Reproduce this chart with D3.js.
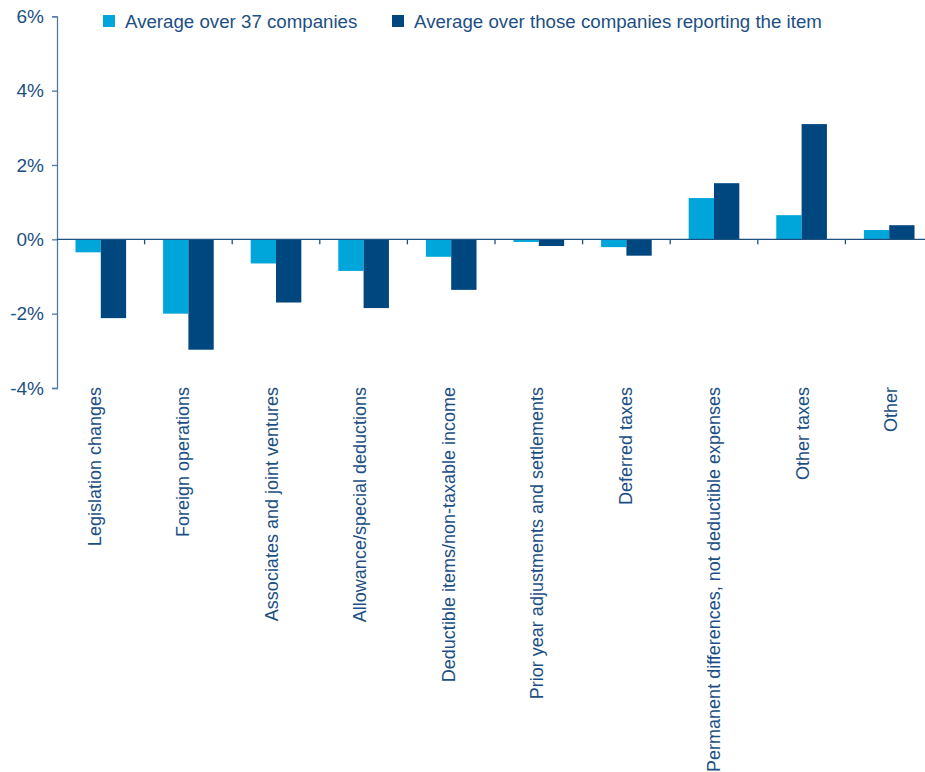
<!DOCTYPE html>
<html>
<head>
<meta charset="utf-8">
<script src="https://cdn.jsdelivr.net/npm/d3@7"></script>
<style>
  body { margin: 0; background: #fff; }
  text { font-family: "Liberation Sans", Arial, sans-serif; fill: #1c4f84; }
</style>
</head>
<body>
<svg id="chart"></svg>
<script>
const categories = [
    "Legislation changes",
    "Foreign operations",
    "Associates and joint ventures",
    "Allowance/special deductions",
    "Deductible items/non-taxable income",
    "Prior year adjustments and settlements",
    "Deferred taxes",
    "Permanent differences, not deductible expenses",
    "Other taxes",
    "Other"
];
const seriesNames = ["Average over 37 companies", "Average over those companies reporting the item"];
const avgAll = [-0.35, -2.0, -0.65, -0.85, -0.47, -0.07, -0.21, 1.11, 0.65, 0.25];
const avgReporting = [-2.12, -2.97, -1.70, -1.85, -1.36, -0.18, -0.44, 1.51, 3.10, 0.38];
const yTicks = [-4, -2, 0, 2, 4, 6];
const colors = ["#00a6da", "#00467f"];

const width = 925, height = 772;
const svg = d3.select("#chart").attr("width", width).attr("height", height);

// scales
const x0 = d3.scaleBand().domain(categories).range([57, 933]).padding(0);
const x1 = d3.scaleBand().domain(seriesNames).range([0, x0.bandwidth()]).paddingInner(0).paddingOuter(0.73);
const xLabel = d3.scalePoint().domain(categories).range([94.5, 891]); // labels are spaced a bit wider than the bars
const y = d3.scaleLinear().domain([-4, 6]).range([388, 16.3]);

// bars
const rows = categories.map((c, i) => ({ cat: c, values: [avgAll[i], avgReporting[i]] }));
const groups = svg.selectAll(".grp")
    .data(rows)
    .enter().append("g")
    .attr("class", "grp")
    .attr("transform", d => `translate(${x0(d.cat)},0)`);

groups.selectAll("rect")
    .data(d => d.values.map((v, j) => ({ name: seriesNames[j], v: v, j: j })))
    .enter().append("rect")
    .attr("x", d => x1(d.name))
    .attr("width", x1.bandwidth())
    .attr("y", d => y(Math.max(0, d.v)))
    .attr("height", d => Math.abs(y(d.v) - y(0)))
    .attr("fill", d => colors[d.j]);

// y axis
const yAxis = svg.append("g")
    .attr("transform", "translate(57,0)")
    .call(d3.axisLeft(y).tickValues(yTicks).tickSize(5).tickPadding(8).tickFormat(d => d + "%"));
yAxis.select(".domain").attr("stroke", "#4d7aa6").attr("stroke-width", 1.3);
yAxis.selectAll(".tick line").attr("stroke", "#4d7aa6").attr("stroke-width", 1.3);
yAxis.selectAll(".tick text")
    .attr("fill", "#1c4f84")
    .style("font-size", "19px")
    .style("font-family", "'Liberation Sans', Arial, sans-serif");

// x axis at zero
svg.append("line")
    .attr("x1", 57).attr("x2", width)
    .attr("y1", y(0)).attr("y2", y(0))
    .attr("stroke", "#1d4f80").attr("stroke-width", 1.3);

svg.selectAll(".xtick")
    .data(categories.slice(1))
    .enter().append("line")
    .attr("class", "xtick")
    .attr("x1", d => x0(d)).attr("x2", d => x0(d))
    .attr("y1", y(0)).attr("y2", y(0) + 5)
    .attr("stroke", "#1d4f80").attr("stroke-width", 1.3);

// category labels
svg.selectAll(".catlabel")
    .data(categories)
    .enter().append("text")
    .attr("class", "catlabel")
    .attr("transform", d => `translate(${xLabel(d)},387) rotate(-90)`)
    .attr("text-anchor", "end")
    .attr("dy", "0.35em")
    .style("font-size", "18px")
    .text(d => d);

// legend
const legendX = [103, 392];
const legend = svg.selectAll(".legend")
    .data(seriesNames)
    .enter().append("g")
    .attr("class", "legend")
    .attr("transform", (d, i) => `translate(${legendX[i]},15)`);

legend.append("rect")
    .attr("width", 12).attr("height", 12)
    .attr("fill", (d, i) => colors[i]);

legend.append("text")
    .attr("x", 22).attr("y", 12.5)
    .style("font-size", "18.7px")
    .text(d => d);
</script>
</body>
</html>
